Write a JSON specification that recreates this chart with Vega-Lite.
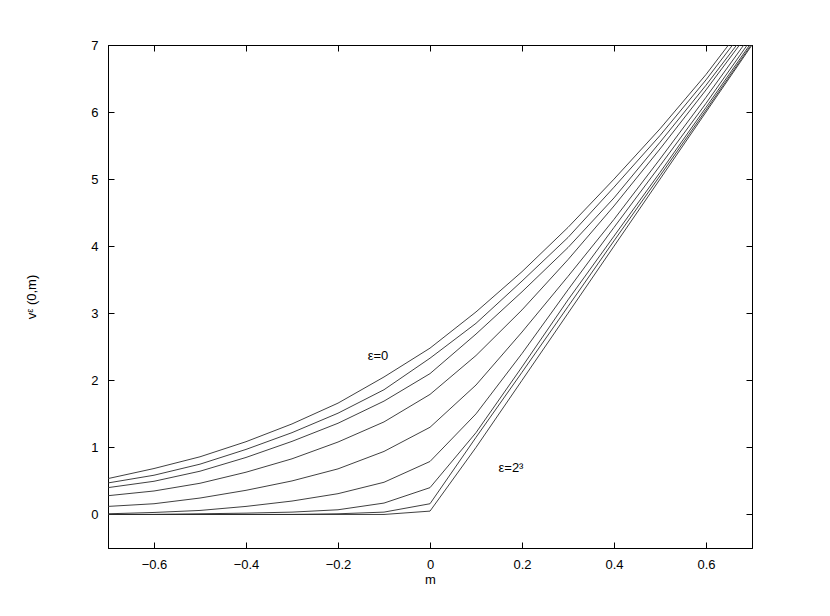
{
  "$schema": "https://vega.github.io/schema/vega-lite/v6.json",
  "width": 644,
  "height": 503,
  "autosize": {"type": "none"},
  "padding": {"left": 108, "top": 45, "right": 78, "bottom": 68},
  "background": "white",
  "config": {
    "view": {"stroke": "black", "strokeWidth": 1},
    "font": "Liberation Sans",
    "axis": {
      "domainColor": "black", "tickColor": "black", "labelColor": "black", "titleColor": "black",
      "labelFont": "Liberation Sans", "titleFont": "Liberation Sans",
      "labelFontSize": 13, "titleFontSize": 13, "titleFontWeight": "normal",
      "grid": false, "tickSize": -6, "domainWidth": 1, "tickWidth": 1
    }
  },
  "datasets": {
    "curves": [
      {"c":1,"m":-0.7,"v":0.535},{"c":1,"m":-0.6,"v":0.685},{"c":1,"m":-0.5,"v":0.86},{"c":1,"m":-0.4,"v":1.085},{"c":1,"m":-0.3,"v":1.35},{"c":1,"m":-0.2,"v":1.66},{"c":1,"m":-0.1,"v":2.05},{"c":1,"m":0,"v":2.48},{"c":1,"m":0.1,"v":3.02},{"c":1,"m":0.2,"v":3.62},{"c":1,"m":0.3,"v":4.28},{"c":1,"m":0.4,"v":5.0},{"c":1,"m":0.5,"v":5.75},{"c":1,"m":0.6,"v":6.56},{"c":1,"m":0.7,"v":7.46},
      {"c":2,"m":-0.7,"v":0.47},{"c":2,"m":-0.6,"v":0.585},{"c":2,"m":-0.5,"v":0.75},{"c":2,"m":-0.4,"v":0.97},{"c":2,"m":-0.3,"v":1.22},{"c":2,"m":-0.2,"v":1.51},{"c":2,"m":-0.1,"v":1.86},{"c":2,"m":0,"v":2.33},{"c":2,"m":0.1,"v":2.85},{"c":2,"m":0.2,"v":3.48},{"c":2,"m":0.3,"v":4.13},{"c":2,"m":0.4,"v":4.88},{"c":2,"m":0.5,"v":5.65},{"c":2,"m":0.6,"v":6.48},{"c":2,"m":0.7,"v":7.38},
      {"c":3,"m":-0.7,"v":0.40},{"c":3,"m":-0.6,"v":0.495},{"c":3,"m":-0.5,"v":0.645},{"c":3,"m":-0.4,"v":0.85},{"c":3,"m":-0.3,"v":1.09},{"c":3,"m":-0.2,"v":1.36},{"c":3,"m":-0.1,"v":1.69},{"c":3,"m":0,"v":2.1},{"c":3,"m":0.1,"v":2.69},{"c":3,"m":0.2,"v":3.32},{"c":3,"m":0.3,"v":3.98},{"c":3,"m":0.4,"v":4.72},{"c":3,"m":0.5,"v":5.55},{"c":3,"m":0.6,"v":6.4},{"c":3,"m":0.7,"v":7.3},
      {"c":4,"m":-0.7,"v":0.28},{"c":4,"m":-0.6,"v":0.35},{"c":4,"m":-0.5,"v":0.465},{"c":4,"m":-0.4,"v":0.63},{"c":4,"m":-0.3,"v":0.83},{"c":4,"m":-0.2,"v":1.08},{"c":4,"m":-0.1,"v":1.38},{"c":4,"m":0,"v":1.79},{"c":4,"m":0.1,"v":2.37},{"c":4,"m":0.2,"v":3.05},{"c":4,"m":0.3,"v":3.8},{"c":4,"m":0.4,"v":4.6},{"c":4,"m":0.5,"v":5.45},{"c":4,"m":0.6,"v":6.33},{"c":4,"m":0.7,"v":7.25},
      {"c":5,"m":-0.7,"v":0.12},{"c":5,"m":-0.6,"v":0.16},{"c":5,"m":-0.5,"v":0.245},{"c":5,"m":-0.4,"v":0.36},{"c":5,"m":-0.3,"v":0.5},{"c":5,"m":-0.2,"v":0.68},{"c":5,"m":-0.1,"v":0.94},{"c":5,"m":0,"v":1.3},{"c":5,"m":0.1,"v":1.93},{"c":5,"m":0.2,"v":2.72},{"c":5,"m":0.3,"v":3.55},{"c":5,"m":0.4,"v":4.4},{"c":5,"m":0.5,"v":5.3},{"c":5,"m":0.6,"v":6.22},{"c":5,"m":0.7,"v":7.17},
      {"c":6,"m":-0.7,"v":0.01},{"c":6,"m":-0.6,"v":0.03},{"c":6,"m":-0.5,"v":0.06},{"c":6,"m":-0.4,"v":0.12},{"c":6,"m":-0.3,"v":0.2},{"c":6,"m":-0.2,"v":0.31},{"c":6,"m":-0.1,"v":0.48},{"c":6,"m":0,"v":0.79},{"c":6,"m":0.1,"v":1.5},{"c":6,"m":0.2,"v":2.4},{"c":6,"m":0.3,"v":3.35},{"c":6,"m":0.4,"v":4.28},{"c":6,"m":0.5,"v":5.2},{"c":6,"m":0.6,"v":6.13},{"c":6,"m":0.7,"v":7.1},
      {"c":7,"m":-0.7,"v":0.0},{"c":7,"m":-0.6,"v":0.0},{"c":7,"m":-0.5,"v":0.01},{"c":7,"m":-0.4,"v":0.02},{"c":7,"m":-0.3,"v":0.035},{"c":7,"m":-0.2,"v":0.07},{"c":7,"m":-0.1,"v":0.17},{"c":7,"m":0,"v":0.40},{"c":7,"m":0.1,"v":1.22},{"c":7,"m":0.2,"v":2.2},{"c":7,"m":0.3,"v":3.2},{"c":7,"m":0.4,"v":4.15},{"c":7,"m":0.5,"v":5.1},{"c":7,"m":0.6,"v":6.07},{"c":7,"m":0.7,"v":7.05},
      {"c":8,"m":-0.7,"v":0.0},{"c":8,"m":-0.6,"v":0.0},{"c":8,"m":-0.5,"v":0.0},{"c":8,"m":-0.4,"v":0.0},{"c":8,"m":-0.3,"v":0.0},{"c":8,"m":-0.2,"v":0.01},{"c":8,"m":-0.1,"v":0.035},{"c":8,"m":0,"v":0.16},{"c":8,"m":0.1,"v":1.15},{"c":8,"m":0.2,"v":2.12},{"c":8,"m":0.3,"v":3.1},{"c":8,"m":0.4,"v":4.08},{"c":8,"m":0.5,"v":5.05},{"c":8,"m":0.6,"v":6.03},{"c":8,"m":0.7,"v":7.02},
      {"c":9,"m":-0.7,"v":0.0},{"c":9,"m":-0.6,"v":0.0},{"c":9,"m":-0.5,"v":0.0},{"c":9,"m":-0.4,"v":0.0},{"c":9,"m":-0.3,"v":0.0},{"c":9,"m":-0.2,"v":0.0},{"c":9,"m":-0.1,"v":0.0},{"c":9,"m":0,"v":0.05},{"c":9,"m":0.1,"v":1.0},{"c":9,"m":0.2,"v":2.0},{"c":9,"m":0.3,"v":3.0},{"c":9,"m":0.4,"v":4.0},{"c":9,"m":0.5,"v":5.0},{"c":9,"m":0.6,"v":6.0},{"c":9,"m":0.7,"v":7.0}
    ],
    "labels": [
      {"m": -0.113, "v": 2.36, "label": "ε=0"},
      {"m": 0.176, "v": 0.69, "label": "ε=2³"}
    ]
  },
  "resolve": {"axis": {"x": "independent", "y": "independent"}},
  "layer": [
    {
      "data": {"name": "curves"},
      "mark": {"type": "line", "stroke": "#2a2a2a", "strokeWidth": 0.9, "clip": true},
      "encoding": {
        "x": {"field": "m", "type": "quantitative",
              "scale": {"domain": [-0.7, 0.7], "nice": false, "zero": false},
              "axis": {"orient": "bottom", "values": [-0.6, -0.4, -0.2, 0, 0.2, 0.4, 0.6], "format": ".1~f",
                       "labelExpr": "replace(datum.label, '-', '−')",
                       "labelPadding": 16, "title": "m", "titlePadding": 2}},
        "y": {"field": "v", "type": "quantitative",
              "scale": {"domain": [-0.5, 7], "nice": false, "zero": false},
              "axis": {"orient": "left", "values": [0, 1, 2, 3, 4, 5, 6, 7],
                       "labelPadding": 16, "title": "vᵋ (0,m)", "titlePadding": 52}},
        "detail": {"field": "c", "type": "nominal"}
      }
    },
    {
      "data": {"name": "labels"},
      "mark": {"type": "text", "fontSize": 13, "font": "Liberation Sans", "color": "black", "align": "center", "baseline": "middle"},
      "encoding": {
        "x": {"field": "m", "type": "quantitative",
              "scale": {"domain": [-0.7, 0.7], "nice": false, "zero": false},
              "axis": {"orient": "top", "values": [-0.6, -0.4, -0.2, 0, 0.2, 0.4, 0.6], "labels": false, "title": null}},
        "y": {"field": "v", "type": "quantitative",
              "scale": {"domain": [-0.5, 7], "nice": false, "zero": false},
              "axis": {"orient": "right", "values": [0, 1, 2, 3, 4, 5, 6, 7], "labels": false, "title": null}},
        "text": {"field": "label"}
      }
    }
  ]
}
